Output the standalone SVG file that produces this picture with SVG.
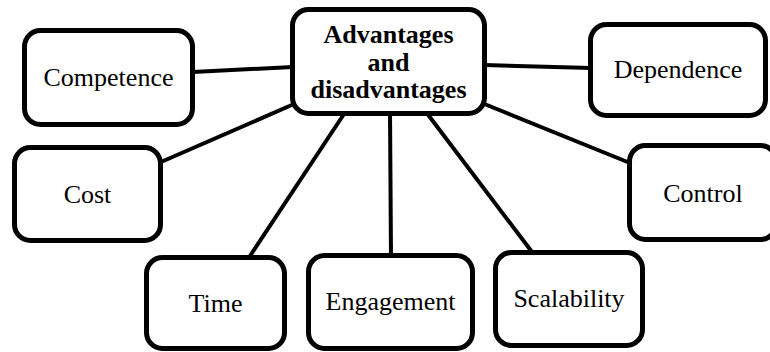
<svg xmlns="http://www.w3.org/2000/svg" width="770" height="352" viewBox="0 0 770 352">
<style>
.box{fill:#fff;stroke:#000;stroke-width:5}
.lbl{font-family:'Liberation Serif', 'DejaVu Serif', serif;font-size:26px;fill:#000;text-anchor:middle}
.bold{font-weight:bold}
.conn line{stroke:#000;stroke-width:4}
</style>
<rect width="770" height="352" fill="#fff"/>
<g id="connectors" class="conn">
<line x1="193" y1="72" x2="293" y2="67"/>
<line x1="161" y1="162" x2="294" y2="104"/>
<line x1="250" y1="256" x2="344" y2="114"/>
<line x1="390" y1="112" x2="391" y2="256"/>
<line x1="426" y1="112" x2="532" y2="252"/>
<line x1="482" y1="103" x2="630" y2="163"/>
<line x1="484" y1="65" x2="591" y2="68"/>
</g>
<g id="center">
<rect class="box" x="292.5" y="9.5" width="192" height="104" rx="16"/>
<text class="lbl bold" x="388.5" y="43">Advantages</text>
<text class="lbl bold" x="388.5" y="71">and</text>
<text class="lbl bold" x="388.5" y="98">disadvantages</text>
</g>
<g id="competence">
<rect class="box" x="24.5" y="30.5" width="168" height="94" rx="16"/>
<text class="lbl" x="108.5" y="86">Competence</text>
</g>
<g id="dependence">
<rect class="box" x="590.5" y="24.5" width="175" height="91" rx="16"/>
<text class="lbl" x="678" y="78">Dependence</text>
</g>
<g id="cost">
<rect class="box" x="14.5" y="147.5" width="146" height="93" rx="16"/>
<text class="lbl" x="87.5" y="203">Cost</text>
</g>
<g id="control">
<rect class="box" x="629.5" y="145.5" width="147" height="94" rx="16"/>
<text class="lbl" x="703" y="202">Control</text>
</g>
<g id="time">
<rect class="box" x="146.5" y="257.5" width="138" height="91" rx="16"/>
<text class="lbl" x="215.5" y="312">Time</text>
</g>
<g id="engagement">
<rect class="box" x="308.5" y="255.5" width="164" height="93" rx="16"/>
<text class="lbl" x="390.5" y="310">Engagement</text>
</g>
<g id="scalability">
<rect class="box" x="495.5" y="252.5" width="147" height="93" rx="16"/>
<text class="lbl" x="569" y="307">Scalability</text>
</g>
</svg>
